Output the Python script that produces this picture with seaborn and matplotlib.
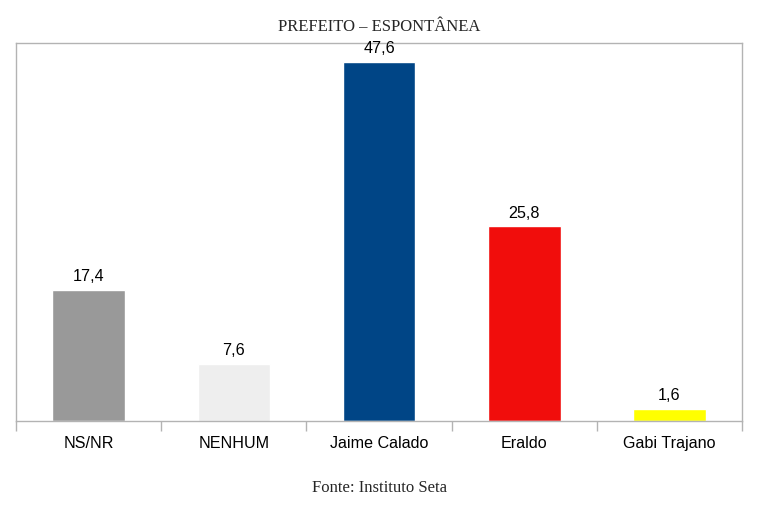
import matplotlib
matplotlib.use("Agg")
import matplotlib.pyplot as plt
import seaborn as sns
import pandas as pd

categories = ["NS/NR", "NENHUM", "Jaime Calado", "Eraldo", "Gabi Trajano"]
values = [17.4, 7.6, 47.6, 25.8, 1.6]
labels = ["17,4", "7,6", "47,6", "25,8", "1,6"]
colors = ["#999999", "#eeeeee", "#004586", "#f10d0c", "#ffff00"]

sns.set_style("white")
plt.rcParams["font.family"] = ["Liberation Sans", "DejaVu Sans"]

df = pd.DataFrame({"cat": categories, "val": values})

fig = plt.figure(figsize=(7.82, 5.21), dpi=100)
ax = fig.add_axes([16/782, 100/521, (742-16)/782, (421-43)/521])

sns.barplot(data=df, x="cat", y="val", hue="cat", palette=colors,
            width=0.5, legend=False, ax=ax, saturation=1)

ax.set_ylim(0, 50.1)
ax.set_xlim(-0.5, len(categories) - 0.5)
ax.set_yticks([])
ax.set_xlabel("")
ax.set_ylabel("")

for s in ax.spines.values():
    s.set_color("#b3b3b3")
    s.set_linewidth(1.0)
    s.set_visible(True)

ax.set_xticks(range(len(categories)))
ax.set_xticklabels(categories, fontsize=11.6, color="#000000")
ax.tick_params(axis="x", which="major", length=0, pad=11)
ax.set_xticks([i - 0.5 for i in range(len(categories) + 1)], minor=True)
ax.tick_params(axis="x", which="minor", length=7, width=1.0, color="#b3b3b3",
               direction="out", bottom=True)

for i, (v, lab) in enumerate(zip(values, labels)):
    ax.annotate(lab, (i, v), xytext=(0, 4), textcoords="offset points",
                ha="center", va="bottom", fontsize=11.6, color="#000000")

fig.text(379/782, 1 - 27/521, "PREFEITO – ESPONTÂNEA", ha="center", va="center",
         fontsize=12, family=["Liberation Serif", "DejaVu Serif"])
fig.text(379/782, 1 - 488/521, "Fonte: Instituto Seta", ha="center", va="center",
         fontsize=12, family=["Liberation Serif", "DejaVu Serif"])

fig.savefig("out.png", dpi=100)
